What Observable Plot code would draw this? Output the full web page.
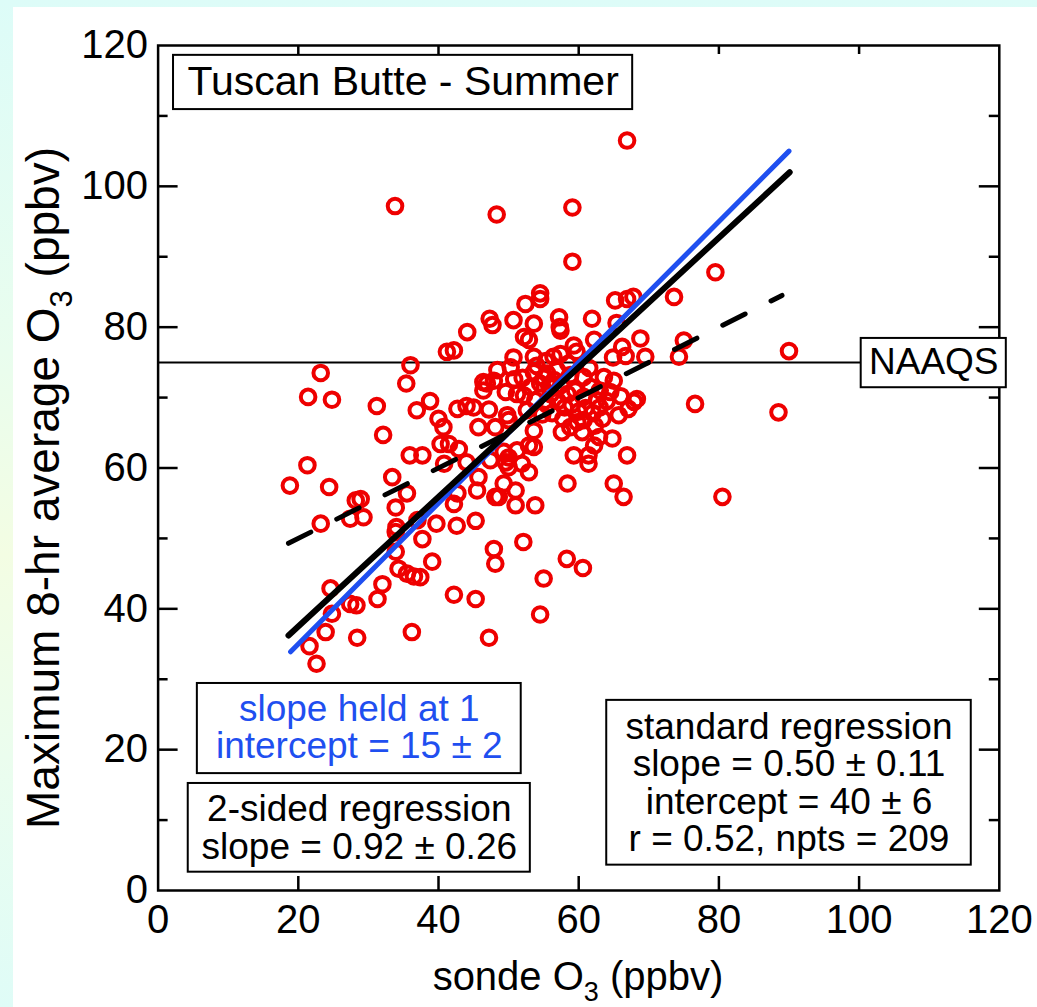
<!DOCTYPE html>
<html><head><meta charset="utf-8">
<script src="https://cdn.jsdelivr.net/npm/d3@7"></script>
<script src="https://cdn.jsdelivr.net/npm/@observablehq/plot@0.6"></script>
<style>
html,body{margin:0;padding:0;}
body{width:1037px;height:1007px;position:relative;overflow:hidden;
  background:linear-gradient(to bottom,#ddfcf8 0%,#e9fdee 35%,#f3fde3 55%,#ebfdee 75%,#dffcf7 100%);}
#panel{position:absolute;left:13px;top:7px;width:1024px;height:1000px;background:#fff;}
#chart{position:absolute;left:0;top:0;}
</style></head><body><div id="panel"></div><div id="chart"></div>
<script>
// sonde O3 (ppbv) — x values
const sondeO3 = [66.9,33.8,48.3,59.1,59.1,79.5,73.6,65.2,66.9,67.8,90.0,75.0,74.3,69.5,68.8,66.2,66.7,64.9,62.2,61.9,
65.4,57.2,57.3,53.6,52.4,54.5,54.5,50.7,47.3,47.7,44.1,41.2,42.2,52.2,52.9,59.3,59.7,56.4,57.4,50.7,
53.6,36.0,23.2,21.4,24.8,35.4,31.2,32.1,38.8,36.9,42.7,44.0,45.0,47.2,45.7,48.1,40.0,40.7,40.3,41.5,
42.9,44.0,45.7,45.5,48.1,47.4,46.9,47.9,48.4,35.9,37.7,40.8,21.3,18.8,24.4,33.4,35.5,33.9,28.2,28.9,
29.3,27.4,23.2,34.0,33.9,37.0,37.7,39.7,42.6,45.3,33.9,39.1,34.3,35.5,36.5,37.4,32.0,31.3,24.6,27.4,
28.3,24.8,23.9,28.4,36.2,42.2,45.3,47.2,21.6,22.6,47.9,48.1,57.4,50.3,46.4,46.4,49.6,51.2,53.6,55.5,
56.9,58.8,60.7,61.7,63.6,65.0,54.5,56.0,58.4,60.7,62.6,67.9,68.3,67.1,65.7,63.4,76.6,88.5,50.0,52.6,
53.6,57.6,60.5,62.2,62.9,64.8,66.9,61.4,59.3,61.4,49.3,50.0,51.2,52.9,53.6,49.6,51.9,52.9,50.0,49.3,
48.6,51.0,51.0,53.8,42.2,58.4,65.0,66.4,80.5,52.1,58.3,60.6,55.0,54.5,60.7,52.2,53.1,49.8,42.7,54.0,
55.0,55.8,56.5,57.5,57.0,58.0,59.0,59.5,60.0,61.0,62.0,63.0,64.0,55.5,56.2,57.8,59.8,54.8,53.8,58.5,
61.5,63.0,64.5,66.0,55.3,52.0,50.8,62.3,58.8];
// maximum 8-hr average O3 (ppbv) — y values
const max8hrO3 = [106.5,97.2,96.0,97.0,89.3,87.8,84.3,83.8,84.0,84.3,76.6,78.1,75.8,75.8,78.4,77.2,75.9,75.7,78.2,81.2,
80.6,81.4,80.0,80.5,83.3,84.8,84.0,81.0,81.2,80.3,79.3,76.5,76.7,78.6,78.2,77.4,76.5,75.8,76.2,75.7,
75.8,74.6,73.5,70.1,69.7,72.0,68.8,64.7,69.5,68.2,68.4,68.8,68.6,68.3,65.8,65.8,67.0,65.8,63.4,63.4,
62.7,60.8,58.7,56.8,55.9,61.1,72.0,72.4,73.9,61.8,61.8,60.6,60.4,57.5,57.3,58.7,56.4,54.4,55.4,55.6,
53.0,52.8,52.1,51.6,50.9,52.6,49.9,52.1,51.8,52.5,48.1,46.7,45.7,45.0,44.6,44.5,43.5,41.4,42.9,40.7,
40.5,39.3,36.7,35.9,36.7,42.0,41.4,35.9,34.7,32.2,48.5,46.4,79.5,74.3,72.2,71.0,70.8,70.5,73.6,73.4,
73.9,73.2,72.9,71.5,72.9,72.4,72.0,70.5,70.5,70.1,69.6,69.4,69.8,68.4,67.5,67.0,69.1,67.9,66.8,68.2,
65.3,65.1,65.1,63.2,64.4,64.2,61.8,61.8,61.8,60.6,62.3,61.5,62.5,63.2,63.0,60.8,60.6,59.4,60.1,57.8,
55.9,56.8,54.7,54.7,54.9,57.8,57.8,55.9,55.9,49.5,47.1,45.8,44.3,39.2,66.8,70.3,71.5,67.5,56.4,74.5,
72.8,71.6,72.5,71.8,69.5,68.6,69.0,71.0,68.0,68.5,67.8,68.6,69.5,69.0,67.8,67.0,66.5,67.6,69.6,74.8,
74.2,71.0,70.8,70.2,75.2,72.8,72.6,66.0,65.8];

// regression fits
const fitNames = ["2-sided regression","slope held at 1","standard regression"];
const fitSlopes = [0.92, 1, 0.5];
const fitIntercepts = [19.1, 15, 40];
const fitXStart = [18.6, 18.9, 18.6];
const fitXEnd = [90.1, 90.0, 89.0];

const naaqs = [75];
const xTicks = [0,20,40,60,80,100,120];
const yTicks = [0,20,40,60,80,100,120];
const xInnerTicks = [20,40,60,80,100];
const yMajorTicks = [20,40,60,80,100];
const yMinorTicks = [10,30,50,70,90,110];

const points = sondeO3.map((x,i)=>({x, y: max8hrO3[i]}));
const fitSeg = fitNames.flatMap((name,i)=>[
  {name, x: fitXStart[i], y: fitSlopes[i]*fitXStart[i]+fitIntercepts[i]},
  {name, x: fitXEnd[i], y: fitSlopes[i]*fitXEnd[i]+fitIntercepts[i]}
]);
const seg = n => fitSeg.filter(d=>d.name===n);

const W = 1037, H = 1007, mL = 157.6, mR = 38.2, mT = 45, mB = 117;
const iW = W-mL-mR, iH = H-mT-mB;
const FONT = "'Liberation Sans', Arial, Helvetica, sans-serif";

const chart = Plot.plot({
  width: W, height: H,
  marginLeft: mL, marginRight: mR, marginTop: mT, marginBottom: mB,
  x: {domain:[0,120], label: null},
  y: {domain:[0,120], label: null},
  style: {fontFamily: FONT, background: "transparent", color: "black", overflow: "visible"},
  marks: [
    Plot.ruleY(naaqs, {y: d=>d, stroke: "black", strokeWidth: 2}),
    Plot.dot(points, {x: "x", y: "y", r: 7.3, stroke: "#ee0000", strokeWidth: 4, fill: "none"}),
    Plot.line(seg("slope held at 1"), {x: "x", y: "y", stroke: "#1f4ff0", strokeWidth: 5}),
    Plot.line(seg("2-sided regression"), {x: "x", y: "y", stroke: "black", strokeWidth: 6}),
    Plot.line(seg("standard regression"), {x: "x", y: "y", stroke: "black", strokeWidth: 5, strokeDasharray: "25,29"}),
    // ticks (inside)
    Plot.tickY(yMajorTicks, {y: d=>d, insetRight: iW-20, strokeWidth: 2.5}),
    Plot.tickY(yMinorTicks, {y: d=>d, insetRight: iW-10, strokeWidth: 2.5}),
    Plot.tickY(yMajorTicks, {y: d=>d, insetLeft: iW-20, strokeWidth: 2.5}),
    Plot.tickY(yMinorTicks, {y: d=>d, insetLeft: iW-10, strokeWidth: 2.5}),
    Plot.tickX(xInnerTicks, {x: d=>d, insetTop: iH-14, strokeWidth: 2.5}),
    Plot.tickX(xInnerTicks, {x: d=>d, insetBottom: iH-9, strokeWidth: 2.5}),
    Plot.frame({stroke: "black", strokeWidth: 2.5}),
    Plot.axisX({ticks: xTicks, tickSize: 0, tickPadding: 14, fontSize: 40, label: null, tickFormat: d=>d}),
    Plot.axisY({ticks: yTicks, tickSize: 0, tickPadding: 10, fontSize: 40, label: null, tickFormat: d=>d}),
    // annotation boxes
    Plot.rect(["Tuscan Butte - Summer"], {x1: 2.2, x2: 67.7, y1: 110.9, y2: 118.6, fill: "white", stroke: "black", strokeWidth: 2}),
    Plot.text(["Tuscan Butte - Summer"], {x: 34.95, y: 114.77, text: d=>d, fontSize: 41, fill: "black"}),
    Plot.rect(["NAAQS"], {x1: 100.3, x2: 121.0, y1: 71.4, y2: 78.4, fill: "white", stroke: "black", strokeWidth: 2}),
    Plot.text(["NAAQS"], {x: 110.65, y: 75, text: d=>d, fontSize: 37, fill: "black"}),
    Plot.rect(["slope held at 1"], {x1: 5.6, x2: 51.8, y1: 16.6, y2: 29.4, fill: "white", stroke: "black", strokeWidth: 2}),
    Plot.text(["slope held at 1\nintercept = 15 ± 2"], {x: 28.7, y: 23.15, text: d=>d, fontSize: 37, lineHeight: 1.01, fill: "#1f4ff0"}),
    Plot.rect(["2-sided regression"], {x1: 4.3, x2: 53.1, y1: 2.6, y2: 15.2, fill: "white", stroke: "black", strokeWidth: 2}),
    Plot.text(["2-sided regression\nslope = 0.92 ± 0.26"], {x: 28.7, y: 8.88, text: d=>d, fontSize: 37, lineHeight: 1.01, fill: "black"}),
    Plot.rect(["standard regression"], {x1: 64.0, x2: 116.0, y1: 3.6, y2: 27.0, fill: "white", stroke: "black", strokeWidth: 2}),
    Plot.text(["standard regression\nslope = 0.50 ± 0.11\nintercept = 40 ± 6\nr = 0.52, npts = 209"], {x: 90.0, y: 15.27, text: d=>d, fontSize: 37, lineHeight: 1.01, fill: "black"})
  ]
});
document.getElementById("chart").appendChild(chart);

// axis titles with subscripts
const svg = d3.select(chart);
function title(sel, before, sub, after, fs) {
  sel.append("tspan").text(before);
  sel.append("tspan").attr("font-size", Math.round(fs*0.68)).attr("dy", Math.round(fs*0.28)).text(sub);
  sel.append("tspan").attr("dy", -Math.round(fs*0.28)).text(after);
}
const xt = svg.append("text").attr("x", 578).attr("y", 990).attr("text-anchor", "middle")
  .attr("font-family", FONT).attr("font-size", 40).attr("fill", "black");
title(xt, "sonde O", "3", " (ppbv)", 40);
const yt = svg.append("text").attr("transform", "translate(59,488) rotate(-90)").attr("text-anchor", "middle")
  .attr("font-family", FONT).attr("font-size", 46).attr("fill", "black");
title(yt, "Maximum 8-hr average O", "3", " (ppbv)", 46);
</script>
</body></html>
